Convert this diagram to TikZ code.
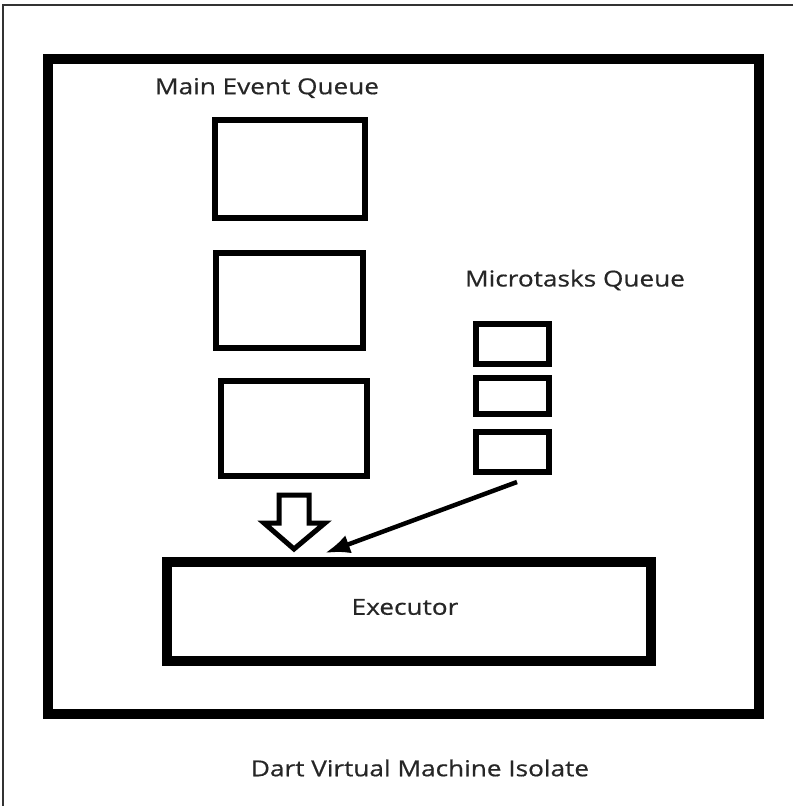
\documentclass[tikz,border=0pt]{standalone}
\usepackage{fontspec}
\setmainfont[FakeStretch=1.19,FakeBold=0.6]{Open Sans}
\usetikzlibrary{positioning,arrows.meta,calc}

\tikzset{
  evbox/.style={draw, line width=6pt, minimum width=148pt, minimum height=96pt, inner sep=0pt, outer sep=0pt},
  mtbox/.style={draw, line width=6.5pt, minimum width=73pt, minimum height=40pt, inner sep=0pt, outer sep=0pt},
  bigbox/.style={draw, line width=10pt, inner sep=0pt, outer sep=0pt},
  caption/.style={font=\fontsize{22}{26}\selectfont, text=black!85, inner sep=0pt}
}

\begin{document}
\begin{tikzpicture}[x=1pt,y=-1pt]
\useasboundingbox (0,0) rectangle (793,806);

% thin frame of the page
\draw[line width=2pt, black!80] (793,5) -- (3,5) -- (3,806);

% isolate
\node[bigbox, minimum width=711pt, minimum height=655pt] (vm) at (403.5,386.5) {};

% main event queue
\node[evbox, minimum width=150pt, minimum height=98pt] (ev1) at (290,169) {};
\node[evbox, minimum width=147pt, minimum height=95pt] (ev2) at (289.5,300.5) {};
\node[evbox, minimum width=146pt, minimum height=95pt] (ev3) at (294,428.5) {};

% microtasks queue
\node[mtbox] (mt1) at (512.5,344) {};
\node[mtbox, minimum height=36pt, below=14pt of mt1] (mt2) {};
\node[mtbox, below=18pt of mt2] (mt3) {};

% executor
\node[bigbox, minimum width=484pt, minimum height=99pt] (exec) at (409,611.5) {};
\node[caption] (exect) at (405,607) {Executor};

% texts
\node[caption] (evq) at (267,88) {Main Event Queue};
\node[caption] (mtq) at (575,280) {Microtasks Queue};
\node[caption] (dvm) at (420,768) {Dart Virtual Machine Isolate};

% hollow arrow into the executor
\draw[line width=5pt, line join=miter, fill=white]
  (279,495) -- (309,495) -- (309,523) -- (325,523) -- (294,549) -- (264,523) -- (279,523) -- cycle;

% microtask arrow
\coordinate (mtip) at (325,553);
\draw[line width=4.5pt, -{Latex[length=25pt,width=19pt]}] ([xshift=4.5pt,yshift=-10pt]mt3.south) -- (mtip);

\end{tikzpicture}
\end{document}
